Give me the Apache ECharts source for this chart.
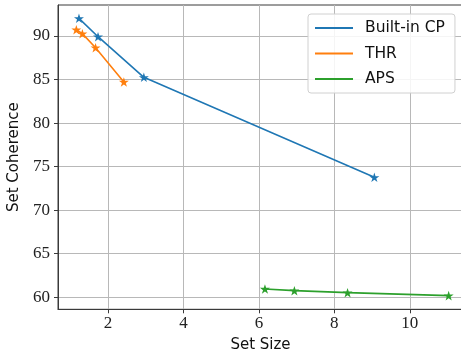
<!DOCTYPE html>
<html>
<head>
<meta charset="utf-8">
<script src="https://cdn.jsdelivr.net/npm/echarts@6/dist/echarts.min.js"></script>
<style>
  html, body { margin: 0; padding: 0; background: #fff; }
  #chart { width: 461px; height: 354px; }
</style>
</head>
<body>
<div id="chart"></div>
<script>
// Set size vs. set coherence for three conformal prediction methods
const builtinSize = [1.23, 1.735, 2.95, 9.06];
const builtinCoh  = [92.03, 89.92, 85.26, 73.78];
const thrSize = [1.16, 1.32, 1.67, 2.42];
const thrCoh  = [90.72, 90.27, 88.66, 84.72];
const apsSize = [6.16, 6.94, 8.35, 11.03];
const apsCoh  = [60.95, 60.76, 60.53, 60.19];

const xTicks = [2, 4, 6, 8, 10];
const yTicks = [60, 65, 70, 75, 80, 85, 90];

const seriesNames = ['Built-in CP', 'THR', 'APS'];
const colors = ['#1f77b4', '#ff7f0e', '#2ca02c'];

const zip = (xs, ys) => xs.map((x, i) => [x, ys[i]]);

const serifFont = 'Liberation Serif';
const sansFont = 'DejaVu Sans';

const chart = echarts.init(document.getElementById('chart'), null, { renderer: 'canvas' });

function makeSeries(name, data, color) {
  return {
    name: name,
    type: 'line',
    data: data,
    color: color,
    symbol: 'path://M50,0 L61.8,36.2 L100,36.2 L69.1,58.8 L80.9,95.1 L50,72.7 L19.1,95.1 L30.9,58.8 L0,36.2 L38.2,36.2 Z',
    symbolSize: 10,
    symbolKeepAspect: true,
    lineStyle: { width: 1.6, color: color },
    itemStyle: { color: color },
    animation: false,
    z: 3
  };
}

const option = {
  backgroundColor: '#fff',
  animation: false,
  grid: {
    left: 58, right: -2, top: 5, bottom: 44.7,
    containLabel: false,
    outerBoundsMode: 'none',
    show: true, borderColor: '#3a3a3a', borderWidth: 1, backgroundColor: 'transparent'
  },
  legend: {
    data: seriesNames,
    orient: 'vertical',
    left: 308, top: 14,
    width: 149,
    padding: [6, 10, 6, 7],
    itemGap: 9.5,
    itemWidth: 38,
    itemHeight: 2,
    icon: 'rect',
    backgroundColor: 'rgba(255,255,255,0.85)',
    borderColor: '#d0d0d0',
    borderWidth: 1,
    borderRadius: 3,
    textStyle: { fontFamily: sansFont, fontSize: 15.5, color: '#111', padding: [0, 0, 0, 7] }
  },
  xAxis: {
    type: 'value',
    min: 0.674, max: 11.41,
    name: 'Set Size',
    nameLocation: 'middle',
    nameGap: 26,
    nameTextStyle: { fontFamily: sansFont, fontSize: 15, color: '#111' },
    axisLine: { show: true, onZero: false, lineStyle: { color: '#3a3a3a', width: 1 } },
    axisTick: { show: true, length: 4, lineStyle: { color: '#3a3a3a' }, customValues: xTicks },
    axisLabel: { customValues: xTicks, fontFamily: serifFont, fontSize: 17, color: '#222', margin: 6 },
    splitLine: { show: true, lineStyle: { color: '#b8b8b8', width: 1 } }
  },
  yAxis: {
    type: 'value',
    min: 58.62, max: 93.56,
    name: 'Set Coherence',
    nameLocation: 'middle',
    nameGap: 31,
    nameTextStyle: { fontFamily: sansFont, fontSize: 15, color: '#111' },
    axisLine: { show: true, onZero: false, lineStyle: { color: '#3a3a3a', width: 1 } },
    axisTick: { show: true, length: 4, lineStyle: { color: '#3a3a3a' }, customValues: yTicks },
    axisLabel: { customValues: yTicks, fontFamily: serifFont, fontSize: 17, color: '#222', margin: 8 },
    splitLine: { show: true, lineStyle: { color: '#b8b8b8', width: 1 } }
  },
  series: [
    makeSeries(seriesNames[0], zip(builtinSize, builtinCoh), colors[0]),
    makeSeries(seriesNames[1], zip(thrSize, thrCoh), colors[1]),
    makeSeries(seriesNames[2], zip(apsSize, apsCoh), colors[2])
  ]
};

chart.setOption(option);
</script>
</body>
</html>
